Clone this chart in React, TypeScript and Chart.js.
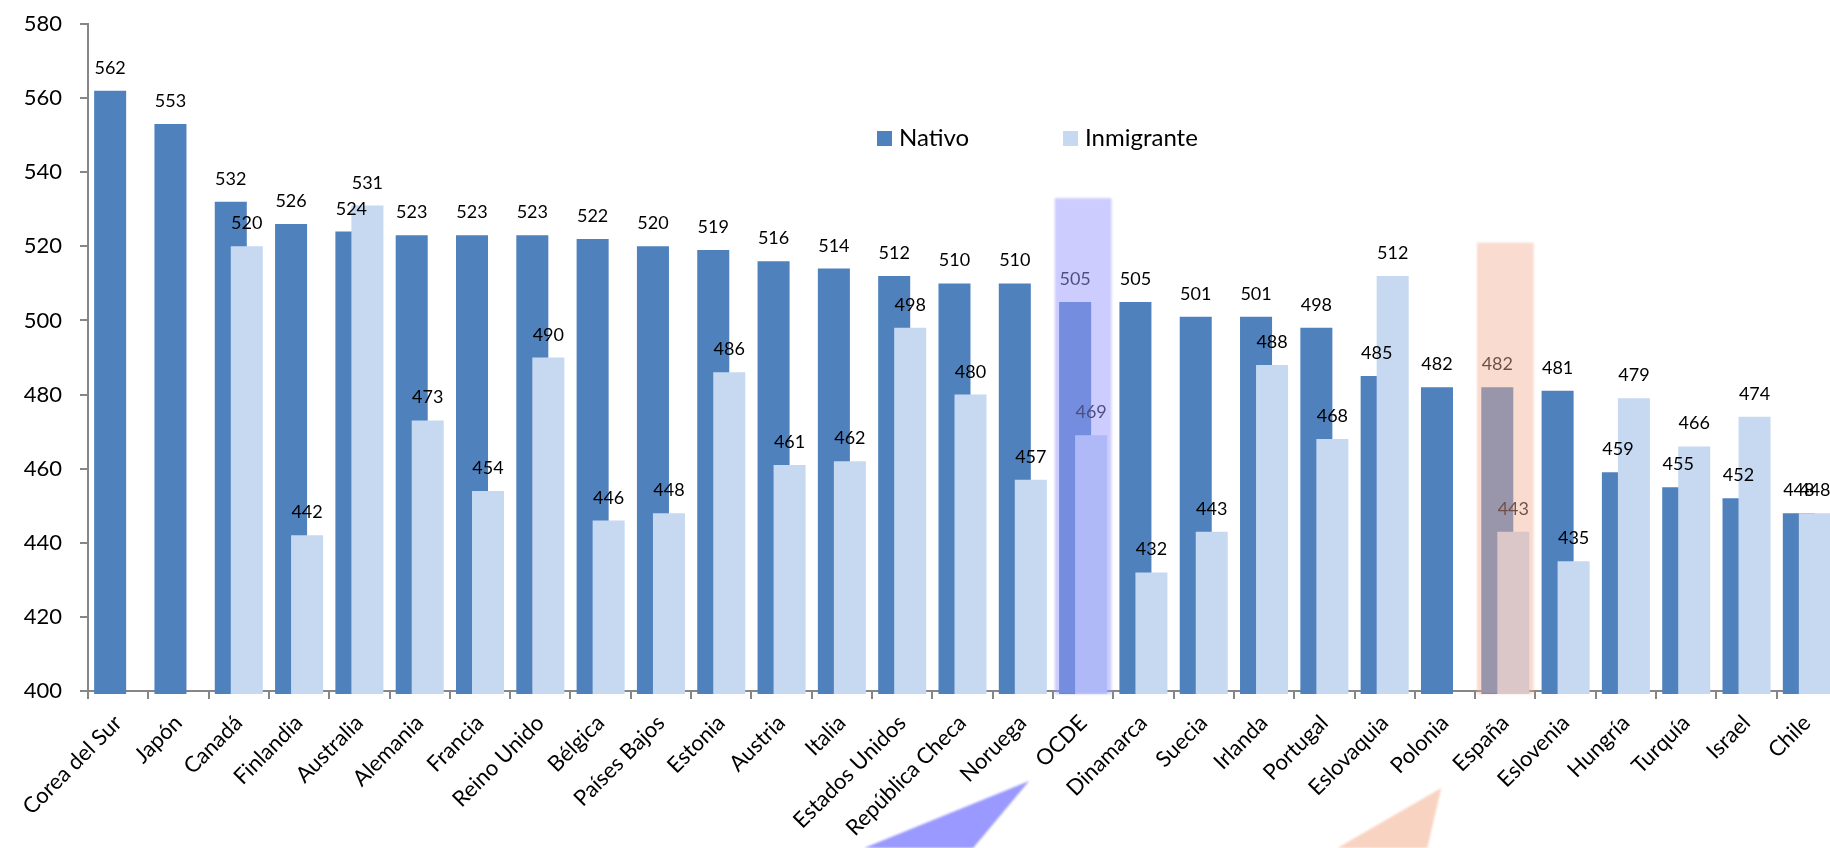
import React, { useEffect, useRef } from 'react';
import { Chart, registerables } from 'chart.js';

Chart.register(...registerables);

// ---------- data ----------
const CATEGORIES = [
  'Corea del Sur', 'Japón', 'Canadá', 'Finlandia', 'Australia', 'Alemania', 'Francia',
  'Reino Unido', 'Bélgica', 'Países Bajos', 'Estonia', 'Austria', 'Italia', 'Estados Unidos',
  'República Checa', 'Noruega', 'OCDE', 'Dinamarca', 'Suecia', 'Irlanda', 'Portugal',
  'Eslovaquia', 'Polonia', 'España', 'Eslovenia', 'Hungría', 'Turquía', 'Israel', 'Chile',
];
const NATIVO = [
  562, 553, 532, 526, 524, 523, 523, 523, 522, 520, 519, 516, 514, 512, 510, 510, 505,
  505, 501, 501, 498, 485, 482, 482, 481, 459, 455, 452, 448,
];
const INMIGRANTE = [
  0, 0, 520, 442, 531, 473, 454, 490, 446, 448, 486, 461, 462, 498, 480, 457, 469,
  432, 443, 488, 468, 512, 0, 443, 435, 479, 466, 474, 448,
];
const SERIES_NAMES = ['Nativo', 'Inmigrante'];
const SERIES_COLORS = ['#4F81BD', '#C6D9F1'];
const Y_MIN = 400;
const Y_MAX = 580;
const Y_STEP = 20;
const HIGHLIGHT_CATEGORIES = ['OCDE', 'España'];
const HIGHLIGHT_TOPS = [533, 521];

// ---------- styling / layout ----------
const FONT = 'Lato';
const CANVAS_W = 1860;
const CANVAS_H = 848;
const BOX_FILLS = ['rgba(153,153,255,0.5)', 'rgba(244,175,151,0.45)'];
const ARROW_FILLS = ['#9999FF', '#F9D3C2'];
// arrow triangles relative to (category centre, axis bottom)
const ARROW_SHAPES = [
  [[-54, 90], [-219, 157], [-110, 157]],
  [[-64, 97], [-168, 157], [-78, 157]],
];
const LEGEND_POS = { x: 877, y: 131, step: 186, box: 15 };

const drawBarsPlugin = {
  id: 'drawBarsInOrder',
  beforeDatasetsDraw(chart: any) {
    const { ctx, chartArea } = chart;
    ctx.save();
    ctx.beginPath();
    ctx.rect(0, 0, chart.width, chartArea.bottom + 3);
    ctx.clip();
    for (let i = 0; i < chart.data.datasets.length; i++) {
      const meta = chart.getDatasetMeta(i);
      if (meta.visible !== false) meta.controller.draw();
    }
    ctx.restore();

    // data labels
    ctx.save();
    ctx.font = `18px ${FONT}`;
    ctx.fillStyle = '#000';
    ctx.textAlign = 'center';
    ctx.textBaseline = 'alphabetic';
    for (let i = 0; i < chart.data.datasets.length; i++) {
      const meta = chart.getDatasetMeta(i);
      const values = chart.data.datasets[i].data as number[];
      meta.data.forEach((el: any, j: number) => {
        const v = values[j];
        if (v == null || v <= Y_MIN) return;
        ctx.fillText(String(v), el.x, el.y - 17);
      });
    }
    ctx.restore();
    return false;
  },
};

const overlayPlugin = {
  id: 'overlays',
  afterDraw(chart: any) {
    const { ctx, chartArea, scales } = chart;
    const xs = scales.x;
    const ys = scales.y;

    // legend
    ctx.save();
    ctx.font = `24px ${FONT}`;
    ctx.textBaseline = 'alphabetic';
    ctx.textAlign = 'left';
    chart.data.datasets.forEach((ds: any, i: number) => {
      const x = LEGEND_POS.x + i * LEGEND_POS.step;
      ctx.fillStyle = ds.backgroundColor;
      ctx.fillRect(x, LEGEND_POS.y, LEGEND_POS.box, LEGEND_POS.box);
      ctx.fillStyle = '#000';
      ctx.fillText(ds.label, x + 22, LEGEND_POS.y + LEGEND_POS.box);
    });
    ctx.restore();

    const catW = xs.getPixelForValue(1) - xs.getPixelForValue(0);
    HIGHLIGHT_CATEGORIES.forEach((cat, k) => {
      const idx = CATEGORIES.indexOf(cat);
      const cx = xs.getPixelForValue(idx);
      const top = ys.getPixelForValue(HIGHLIGHT_TOPS[k]);
      const b = chartArea.bottom;
      ctx.save();
      ctx.filter = 'blur(1px)';
      ctx.fillStyle = BOX_FILLS[k];
      ctx.fillRect(cx - catW * 0.47, top, catW * 0.94, b + 3 - top);
      ctx.fillStyle = ARROW_FILLS[k];
      ctx.beginPath();
      ARROW_SHAPES[k].forEach(([dx, dy], n) => {
        if (n === 0) ctx.moveTo(cx + dx, b + dy);
        else ctx.lineTo(cx + dx, b + dy);
      });
      ctx.closePath();
      ctx.fill();
      ctx.restore();
    });
  },
};

export default function App() {
  const ref = useRef<HTMLCanvasElement>(null);

  useEffect(() => {
    if (!ref.current) return;
    Chart.defaults.font.family = FONT;
    Chart.defaults.color = '#000';
    const chart = new Chart(ref.current, {
      type: 'bar',
      data: {
        labels: CATEGORIES,
        datasets: [
          {
            label: SERIES_NAMES[0],
            data: NATIVO,
            backgroundColor: SERIES_COLORS[0],
            categoryPercentage: 0.531,
            barPercentage: 2,
          },
          {
            label: SERIES_NAMES[1],
            data: INMIGRANTE,
            backgroundColor: SERIES_COLORS[1],
            categoryPercentage: 0.531,
            barPercentage: 2,
          },
        ],
      },
      options: {
        responsive: false,
        animation: false,
        devicePixelRatio: 1,
        layout: { padding: { left: 0, top: 24, right: CANVAS_W - 1837, bottom: 0 } },
        plugins: {
          legend: { display: false },
          tooltip: { enabled: false },
        },
        scales: {
          x: {
            type: 'category',
            offset: true,
            ticks: {
              font: { size: 22, family: FONT },
              color: '#000',
              minRotation: 45,
              maxRotation: 45,
              autoSkip: false,
              padding: 11,
            },
            grid: {
              offset: true,
              drawOnChartArea: false,
              drawTicks: true,
              tickLength: 8,
              color: '#868686',
              lineWidth: 2,
            },
            border: { display: true, color: '#868686', width: 2 },
            afterFit: (s: any) => {
              s.height = CANVAS_H - 691;
              s.paddingLeft = 0;
              s.paddingRight = 0;
            },
          },
          y: {
            min: Y_MIN,
            max: Y_MAX,
            ticks: {
              stepSize: Y_STEP,
              font: { size: 22, family: FONT },
              color: '#000',
              padding: 18,
            },
            grid: {
              drawOnChartArea: false,
              drawTicks: true,
              tickLength: 8,
              color: '#868686',
              lineWidth: 2,
            },
            border: { display: true, color: '#868686', width: 2 },
            afterFit: (s: any) => {
              s.width = 88;
              s.paddingTop = 0;
              s.paddingBottom = 0;
            },
          },
        },
      },
      plugins: [drawBarsPlugin, overlayPlugin],
    });
    return () => chart.destroy();
  }, []);

  return (
    <div
      style={{
        position: 'fixed',
        left: 0,
        top: 0,
        width: 1830,
        height: 848,
        overflow: 'hidden',
        background: '#fff',
      }}
    >
      <canvas
        ref={ref}
        width={CANVAS_W}
        height={CANVAS_H}
        style={{ display: 'block', width: CANVAS_W, height: CANVAS_H }}
      />
    </div>
  );
}
